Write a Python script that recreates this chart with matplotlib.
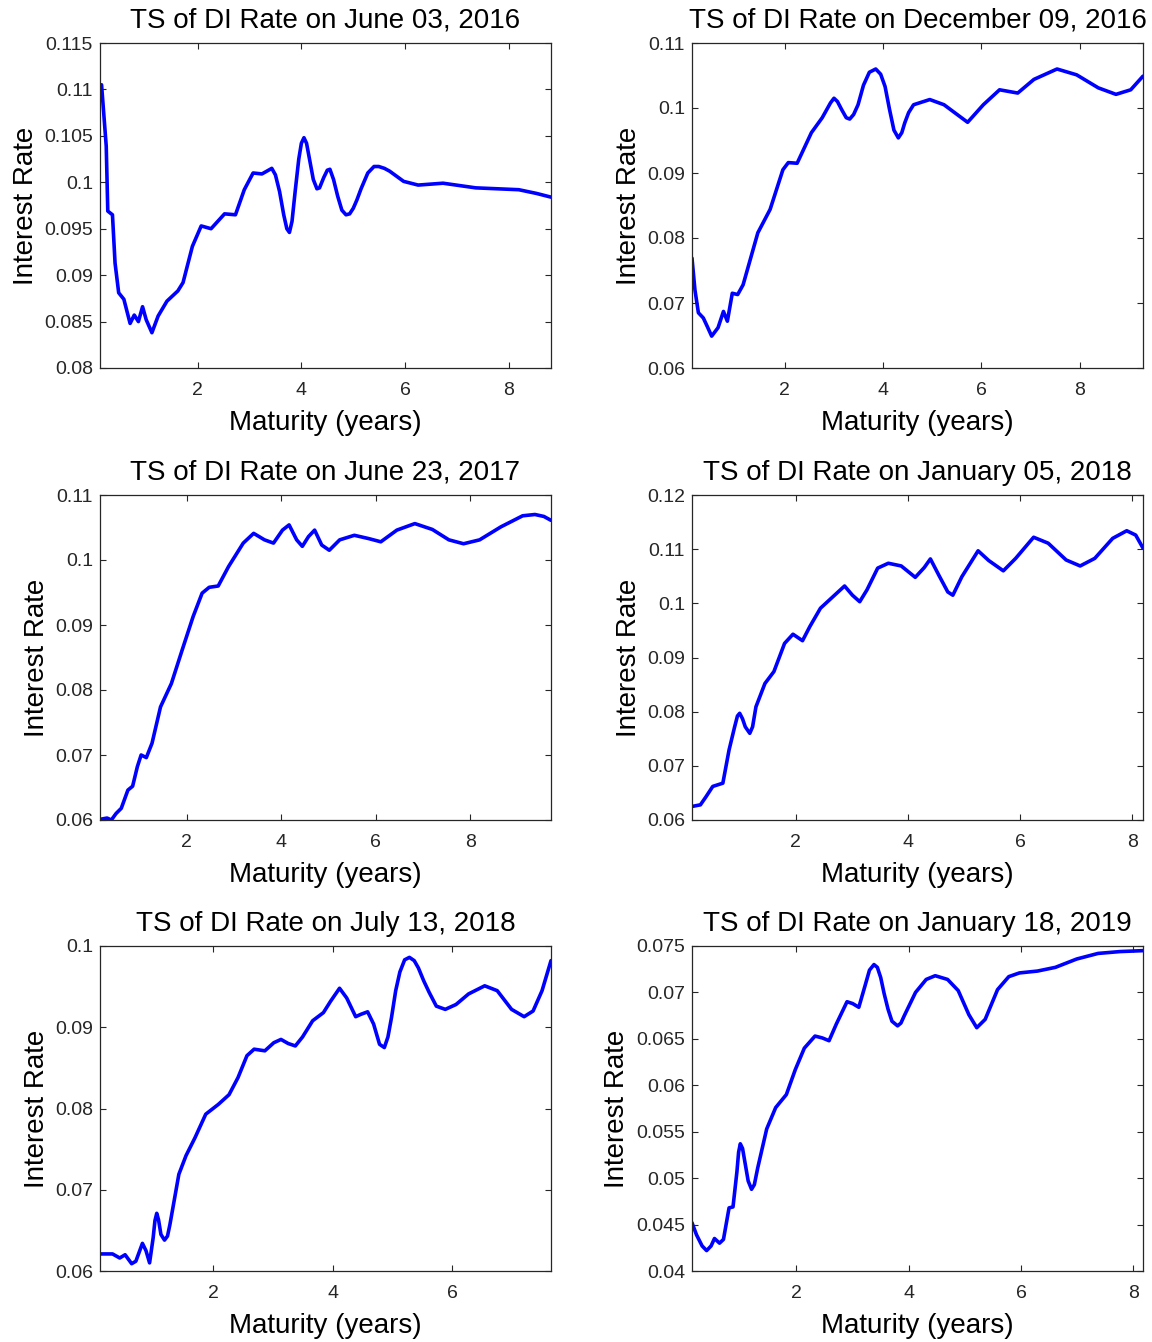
import matplotlib.pyplot as plt
from matplotlib.ticker import FuncFormatter

plt.rcParams['font.family'] = ['Liberation Sans', 'DejaVu Sans']

## Data ##
titles = [
    "TS of DI Rate on June 03, 2016",
    "TS of DI Rate on December 09, 2016",
    "TS of DI Rate on June 23, 2017",
    "TS of DI Rate on January 05, 2018",
    "TS of DI Rate on July 13, 2018",
    "TS of DI Rate on January 18, 2019",
]

mat_jun16 = [0.12, 0.15, 0.24, 0.27, 0.36, 0.41, 0.48, 0.58, 0.70, 0.78, 0.86, 0.94,
             1.01, 1.12, 1.24, 1.41, 1.62, 1.72, 1.90, 2.07, 2.26, 2.52, 2.73, 2.90,
             3.07, 3.24, 3.43, 3.50, 3.58, 3.66, 3.72, 3.77, 3.82, 3.88, 3.95, 4.00,
             4.05, 4.10, 4.16, 4.23, 4.30, 4.35, 4.43, 4.50, 4.55, 4.62, 4.70, 4.78,
             4.86, 4.93, 5.00, 5.07, 5.15, 5.28, 5.40, 5.49, 5.60, 5.70, 5.97, 6.25,
             6.73, 7.36, 8.19, 8.53, 8.81]
rate_jun16 = [0.1103, 0.1105, 0.1039, 0.0969, 0.0965, 0.0913, 0.0881, 0.0874, 0.0848, 0.0857, 0.0850, 0.0866,
              0.0852, 0.0838, 0.0856, 0.0872, 0.0883, 0.0892, 0.0931, 0.0953, 0.0950, 0.0966, 0.0965, 0.0992,
              0.1010, 0.1009, 0.1015, 0.1008, 0.0990, 0.0965, 0.0950, 0.0946, 0.0958, 0.0990, 0.1025, 0.1042,
              0.1048, 0.1042, 0.1024, 0.1003, 0.0993, 0.0994, 0.1005, 0.1013, 0.1014, 0.1003, 0.0985, 0.0970,
              0.0965, 0.0966, 0.0972, 0.0981, 0.0993, 0.1010, 0.1017, 0.1017, 0.1015, 0.1012, 0.1001, 0.0997,
              0.0999, 0.0994, 0.0992, 0.0988, 0.0984]

mat_dec16 = [0.11, 0.17, 0.24, 0.34, 0.42, 0.51, 0.64, 0.75, 0.83, 0.93, 1.04, 1.15,
             1.45, 1.70, 1.96, 2.07, 2.25, 2.54, 2.76, 2.93, 3.00, 3.07, 3.16, 3.25,
             3.32, 3.40, 3.49, 3.60, 3.72, 3.85, 3.95, 4.04, 4.13, 4.22, 4.31, 4.38,
             4.44, 4.52, 4.62, 4.95, 5.24, 5.72, 6.04, 6.37, 6.74, 7.07, 7.54, 7.94,
             8.38, 8.74, 9.04, 9.29]
rate_dec16 = [0.0769, 0.0720, 0.0685, 0.0677, 0.0664, 0.0649, 0.0662, 0.0687, 0.0672, 0.0715, 0.0713, 0.0728,
              0.0808, 0.0844, 0.0905, 0.0916, 0.0915, 0.0962, 0.0985, 0.1008, 0.1015, 0.1010, 0.0997, 0.0985,
              0.0983, 0.0990, 0.1005, 0.1035, 0.1055, 0.1060, 0.1052, 0.1033, 0.0998, 0.0966, 0.0954, 0.0962,
              0.0977, 0.0993, 0.1005, 0.1013, 0.1005, 0.0978, 0.1005, 0.1028, 0.1023, 0.1044, 0.1060, 0.1051,
              0.1031, 0.1021, 0.1028, 0.1049]

mat_jun17 = [0.17, 0.32, 0.41, 0.51, 0.62, 0.76, 0.86, 0.96, 1.04, 1.15, 1.27, 1.45,
             1.68, 1.91, 2.14, 2.33, 2.48, 2.67, 2.89, 3.20, 3.42, 3.65, 3.84, 4.03,
             4.17, 4.33, 4.45, 4.58, 4.71, 4.86, 5.02, 5.24, 5.55, 5.85, 6.11, 6.45,
             6.83, 7.20, 7.55, 7.86, 8.20, 8.65, 9.11, 9.37, 9.56, 9.71]
rate_jun17 = [0.0601, 0.0603, 0.0600, 0.0610, 0.0618, 0.0646, 0.0652, 0.0682, 0.0700, 0.0696, 0.0718, 0.0774,
              0.0810, 0.0862, 0.0913, 0.0949, 0.0958, 0.0960, 0.0990, 0.1026, 0.1041, 0.1031, 0.1026, 0.1046,
              0.1054, 0.1031, 0.1021, 0.1036, 0.1046, 0.1023, 0.1015, 0.1031, 0.1038, 0.1033, 0.1028, 0.1046,
              0.1056, 0.1047, 0.1031, 0.1025, 0.1031, 0.1051, 0.1068, 0.1070, 0.1067, 0.1061]

mat_jan18 = [0.15, 0.30, 0.40, 0.52, 0.70, 0.81, 0.91, 0.96, 1.00, 1.05, 1.10, 1.18,
             1.23, 1.29, 1.45, 1.61, 1.80, 1.95, 2.12, 2.25, 2.44, 2.66, 2.87, 3.01,
             3.14, 3.27, 3.46, 3.65, 3.88, 4.13, 4.29, 4.40, 4.55, 4.71, 4.80, 4.96,
             5.25, 5.44, 5.70, 5.92, 6.24, 6.50, 6.82, 7.07, 7.33, 7.65, 7.90, 8.06,
             8.19]
rate_jan18 = [0.0625, 0.0628, 0.0643, 0.0662, 0.0668, 0.0729, 0.0772, 0.0792, 0.0797, 0.0787, 0.0772, 0.0760,
              0.0772, 0.0809, 0.0852, 0.0874, 0.0926, 0.0943, 0.0931, 0.0957, 0.0991, 0.1012, 0.1032, 0.1015,
              0.1003, 0.1025, 0.1065, 0.1074, 0.1069, 0.1048, 0.1066, 0.1082, 0.1052, 0.1021, 0.1015, 0.1049,
              0.1097, 0.1079, 0.1060, 0.1083, 0.1122, 0.1111, 0.1080, 0.1069, 0.1083, 0.1120, 0.1134, 0.1126,
              0.1102]

mat_jul18 = [0.10, 0.31, 0.43, 0.52, 0.63, 0.70, 0.81, 0.87, 0.93, 0.99, 1.02, 1.05,
             1.08, 1.12, 1.18, 1.23, 1.27, 1.42, 1.54, 1.69, 1.87, 2.08, 2.26, 2.41,
             2.56, 2.68, 2.86, 3.01, 3.13, 3.25, 3.37, 3.49, 3.66, 3.84, 3.96, 4.11,
             4.23, 4.38, 4.47, 4.58, 4.68, 4.78, 4.86, 4.92, 4.98, 5.05, 5.12, 5.20,
             5.28, 5.36, 5.43, 5.52, 5.61, 5.73, 5.88, 6.06, 6.27, 6.54, 6.75, 6.99,
             7.20, 7.35, 7.50, 7.65]
rate_jul18 = [0.0621, 0.0621, 0.0616, 0.0620, 0.0609, 0.0612, 0.0634, 0.0625, 0.0610, 0.0641, 0.0662, 0.0671,
              0.0663, 0.0645, 0.0638, 0.0643, 0.0657, 0.0719, 0.0742, 0.0764, 0.0793, 0.0805, 0.0817, 0.0838,
              0.0865, 0.0873, 0.0871, 0.0881, 0.0885, 0.0880, 0.0877, 0.0888, 0.0908, 0.0918, 0.0932, 0.0948,
              0.0936, 0.0913, 0.0916, 0.0919, 0.0904, 0.0879, 0.0875, 0.0888, 0.0912, 0.0945, 0.0968, 0.0983,
              0.0986, 0.0982, 0.0973, 0.0957, 0.0943, 0.0926, 0.0922, 0.0928, 0.0941, 0.0951, 0.0945, 0.0922,
              0.0913, 0.0920, 0.0945, 0.0982]

mat_jan19 = [0.14, 0.22, 0.32, 0.40, 0.48, 0.54, 0.63, 0.70, 0.80, 0.87, 0.94, 0.97,
             1.00, 1.04, 1.08, 1.14, 1.20, 1.25, 1.31, 1.47, 1.63, 1.82, 1.98, 2.14,
             2.33, 2.46, 2.58, 2.71, 2.90, 3.00, 3.11, 3.22, 3.30, 3.38, 3.44, 3.50,
             3.56, 3.63, 3.70, 3.80, 3.86, 3.92, 4.12, 4.31, 4.47, 4.69, 4.88, 5.07,
             5.21, 5.36, 5.58, 5.78, 5.97, 6.29, 6.61, 6.99, 7.37, 7.76, 8.17]
rate_jan19 = [0.0452, 0.0439, 0.0427, 0.0422, 0.0427, 0.0435, 0.0430, 0.0434, 0.0468, 0.0469, 0.0507, 0.0528,
              0.0537, 0.0532, 0.0518, 0.0497, 0.0488, 0.0493, 0.0511, 0.0553, 0.0576, 0.0590, 0.0617, 0.0640,
              0.0653, 0.0651, 0.0648, 0.0666, 0.0690, 0.0688, 0.0684, 0.0707, 0.0724, 0.0730, 0.0727, 0.0716,
              0.0699, 0.0682, 0.0669, 0.0664, 0.0667, 0.0675, 0.0700, 0.0714, 0.0718, 0.0714, 0.0702, 0.0676,
              0.0662, 0.0671, 0.0703, 0.0717, 0.0721, 0.0723, 0.0727, 0.0736, 0.0742, 0.0744, 0.0745]

maturities = [mat_jun16, mat_dec16, mat_jun17, mat_jan18, mat_jul18, mat_jan19]
rates = [rate_jun16, rate_dec16, rate_jun17, rate_jan18, rate_jul18, rate_jan19]

y_limits = [(0.08, 0.115), (0.06, 0.11), (0.06, 0.11), (0.06, 0.12), (0.06, 0.10), (0.04, 0.075)]
y_steps = [0.005, 0.01, 0.01, 0.01, 0.01, 0.005]
x_ticks = [2, 4, 6, 8]

## Figure layout (pixel positions of the axes boxes) ##
W, H = 1152, 1342
fig = plt.figure(figsize=(W / 100, H / 100), dpi=100)

lefts = [100, 692]
tops = [43, 495, 946]
box_w, box_h = 451, 325

gray = "#262626"

for i in range(6):
    row, col = divmod(i, 2)
    l = lefts[col]
    t = tops[row]
    ax = fig.add_axes([l / W, 1 - (t + box_h) / H, box_w / W, box_h / H])

    ax.plot(maturities[i], rates[i], color=(0, 0, 1), linewidth=2.6,
            solid_joinstyle="round", solid_capstyle="round")

    ax.set_xlim(maturities[i][0], maturities[i][-1])
    lo, hi = y_limits[i]
    ax.set_ylim(lo, hi)
    n = int(round((hi - lo) / y_steps[i]))
    ax.set_yticks([lo + k * y_steps[i] for k in range(n + 1)])
    ax.set_xticks([v for v in x_ticks if v < maturities[i][-1]])
    ax.yaxis.set_major_formatter(FuncFormatter(lambda v, p: "%g" % round(v, 4)))

    ax.tick_params(direction="in", top=True, right=True, length=4.5, width=0.8,
                   colors=gray, labelsize=14)
    ax.tick_params(axis="x", pad=10)
    ax.tick_params(axis="y", pad=5)
    for s in ax.spines.values():
        s.set_color(gray)
        s.set_linewidth(0.9)

    ax.set_title(titles[i], fontsize=20, pad=11)
    ax.set_xlabel("Maturity (years)", fontsize=20, labelpad=8)
    ax.set_ylabel("Interest Rate", fontsize=20, labelpad=4)

plt.savefig("out.png", dpi=100)
plt.close()
